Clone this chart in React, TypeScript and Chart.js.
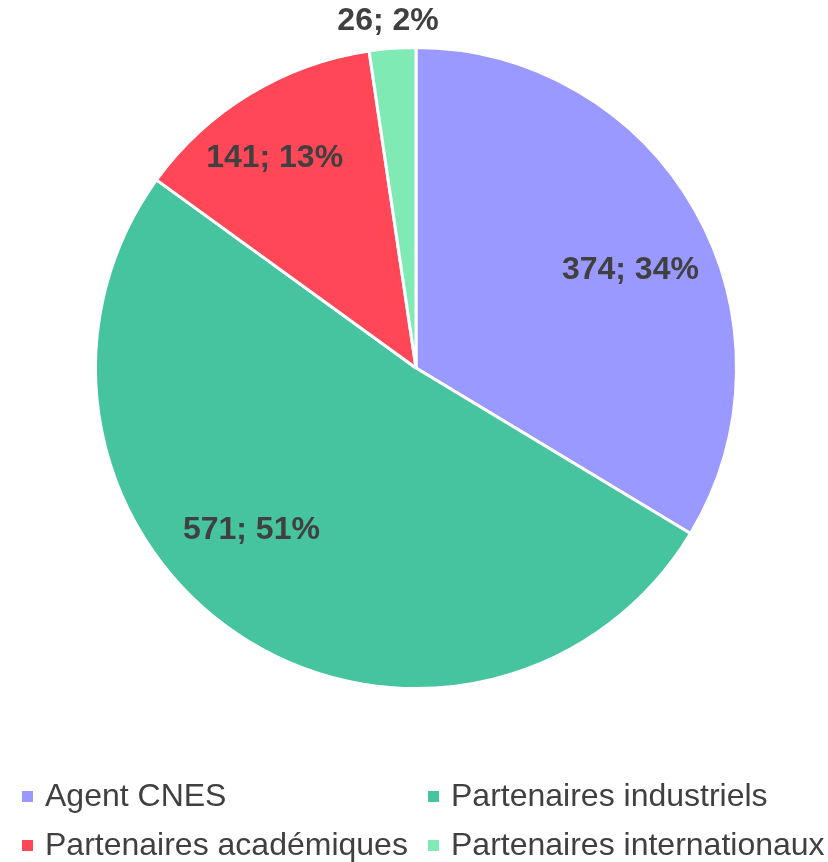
import React, { useEffect, useRef } from "react";
import { Chart, registerables } from "chart.js";

Chart.register(...registerables);

const categories = ["Agent CNES", "Partenaires industriels", "Partenaires académiques", "Partenaires internationaux"];
const values = [374, 571, 141, 26];
const percents = ["34%", "51%", "13%", "2%"];
const colors = ["#9999FF", "#46C49F", "#FF4757", "#80EAB4"];
// label placement: [angle shift in degrees, radius fraction]
const labelPlacement = [[5, 0.735], [12, 0.72], [-2.7, 0.79], [-0.4, 1.085]];

const FONT = "'Liberation Sans', Arial, sans-serif";

const labelsPlugin = {
  id: "sliceLabels",
  afterDatasetsDraw(chart: any) {
    const ctx = chart.ctx;
    const meta = chart.getDatasetMeta(0);
    ctx.save();
    ctx.font = `bold 32px ${FONT}`;
    ctx.fillStyle = "#404040";
    ctx.textAlign = "center";
    ctx.textBaseline = "middle";
    meta.data.forEach((arc: any, i: number) => {
      const p = arc.getProps(["x", "y", "startAngle", "endAngle", "outerRadius"], true);
      const mid = (p.startAngle + p.endAngle) / 2 + (labelPlacement[i][0] * Math.PI) / 180;
      const r = p.outerRadius * labelPlacement[i][1];
      const x = p.x + Math.cos(mid) * r;
      const y = p.y + Math.sin(mid) * r;
      ctx.fillText(`${values[i]}; ${percents[i]}`, x, y);
    });
    ctx.restore();
  },
};

const legendPlugin = {
  id: "gridLegend",
  afterDraw(chart: any) {
    const ctx = chart.ctx;
    ctx.save();
    ctx.font = `32px ${FONT}`;
    ctx.textBaseline = "middle";
    ctx.textAlign = "left";
    const colX = [22, 428];
    const rowY = [797, 846];
    categories.forEach((c, i) => {
      const x = colX[i % 2];
      const y = rowY[Math.floor(i / 2)];
      ctx.fillStyle = colors[i];
      ctx.fillRect(x, y - 6, 11, 11);
      ctx.fillStyle = "#404040";
      ctx.fillText(c, x + 23, y);
    });
    ctx.restore();
  },
};

export default function App() {
  const ref = useRef<HTMLCanvasElement>(null);
  useEffect(() => {
    document.body.style.margin = "0";
    const chart = new Chart(ref.current!, {
      type: "pie",
      data: {
        labels: categories,
        datasets: [
          {
            data: values,
            backgroundColor: colors,
            borderColor: "#ffffff",
            borderWidth: 3,
          },
        ],
      },
      options: {
        responsive: false,
        animation: false,
        layout: { padding: { top: 46, bottom: 172, left: 94, right: 90 } },
        plugins: {
          legend: { display: false },
          tooltip: { enabled: false },
        },
      },
      plugins: [labelsPlugin, legendPlugin],
    });
    return () => chart.destroy();
  }, []);
  return <canvas ref={ref} width={828} height={862} style={{ display: "block" }} />;
}
